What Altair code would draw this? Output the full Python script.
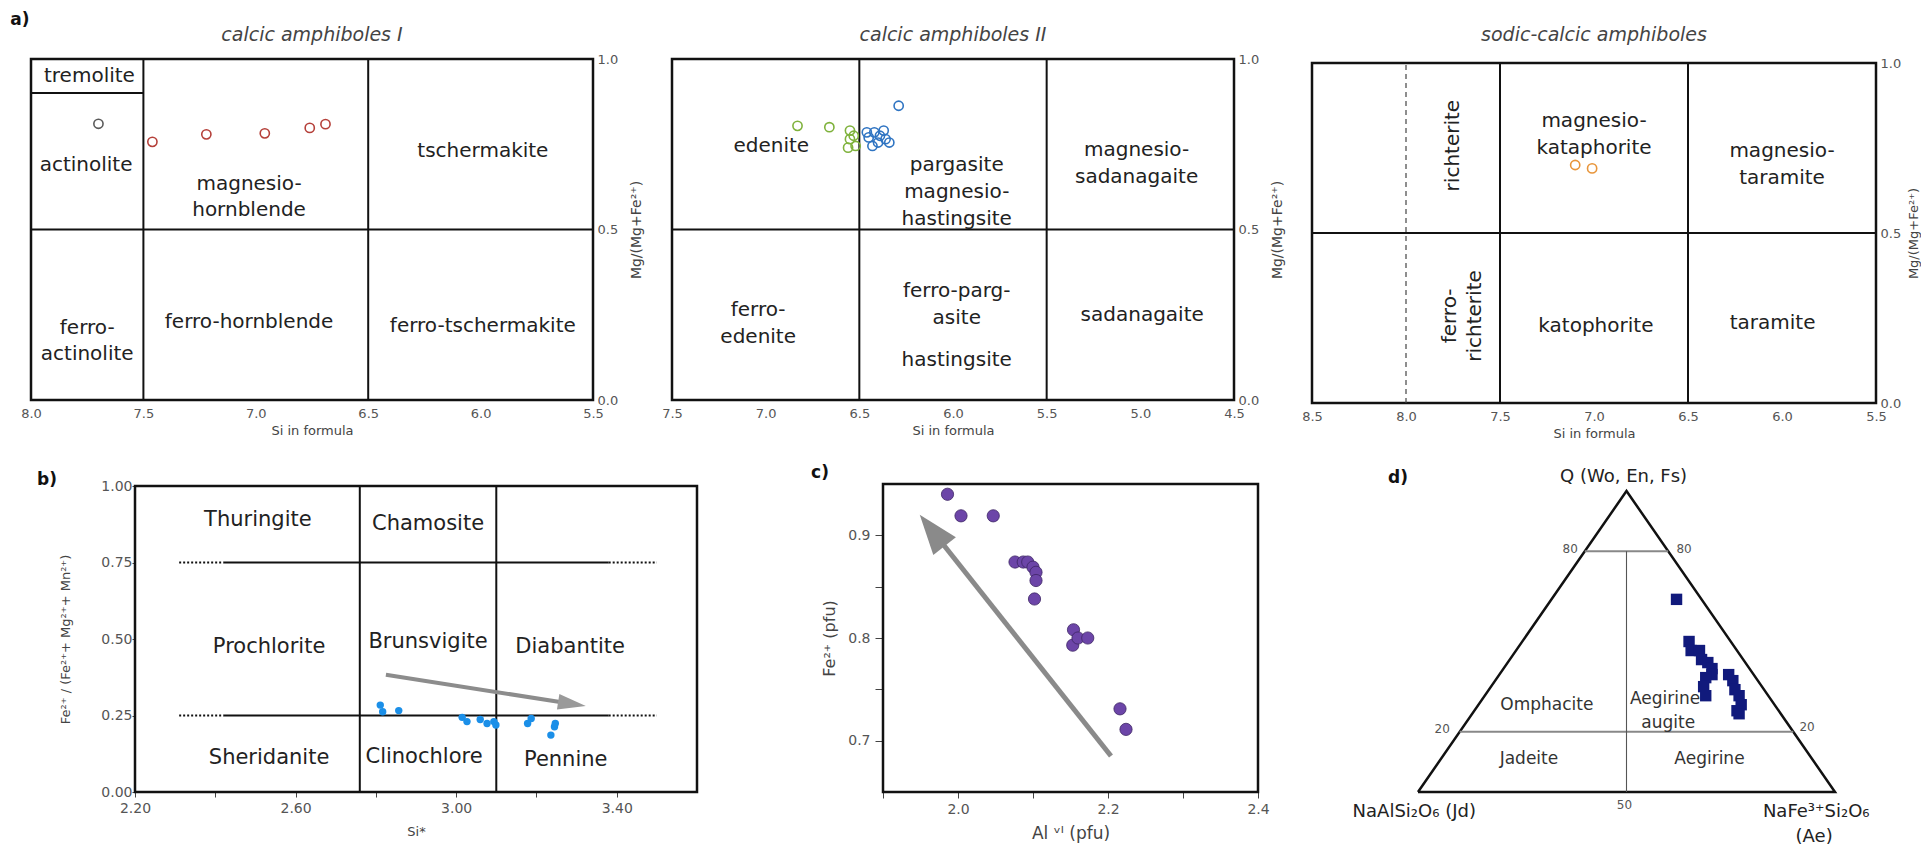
import math
import altair as alt
import pandas as pd

# ---------------- data ----------------
# a) amphiboles: Si in formula vs Mg/(Mg+Fe2+)
a1_grey_si = [7.70]
a1_grey_mg = [0.810]
a1_red_si = [7.46, 7.22, 6.96, 6.76, 6.69]
a1_red_mg = [0.757, 0.779, 0.782, 0.798, 0.809]
a2_green_si = [6.83, 6.66, 6.55, 6.55, 6.56, 6.53, 6.52]
a2_green_mg = [0.804, 0.800, 0.790, 0.765, 0.740, 0.775, 0.745]
a2_blue_si = [6.29, 6.37, 6.42, 6.45, 6.43, 6.36, 6.34, 6.40, 6.46, 6.39]
a2_blue_mg = [0.863, 0.790, 0.785, 0.770, 0.745, 0.765, 0.755, 0.755, 0.785, 0.775]
a3_orange_si = [7.10, 7.01]
a3_orange_mg = [0.700, 0.690]

a1_labels = ["tremolite", "actinolite", "magnesio-\nhornblende", "tschermakite",
             "ferro-\nactinolite", "ferro-hornblende", "ferro-tschermakite"]
a1_lab_x = [7.74, 7.755, 7.03, 5.99, 7.75, 7.03, 5.99]
a1_lab_y = [0.95, 0.69, 0.633, 0.73, 0.21, 0.23, 0.216]
a2_labels = ["edenite", "pargasite\nmagnesio-\nhastingsite", "magnesio-\nsadanagaite",
             "ferro-\nedenite", "ferro-parg-\nasite", "hastingsite", "sadanagaite"]
a2_lab_x = [6.97, 5.98, 5.02, 7.04, 5.98, 5.98, 4.99]
a2_lab_y = [0.745, 0.69, 0.733, 0.265, 0.32, 0.118, 0.25]
a3_labels = ["magnesio-\nkataphorite", "magnesio-\ntaramite", "katophorite", "taramite"]
a3_lab_x = [7.0, 6.0, 6.99, 6.05]
a3_lab_y = [0.83, 0.74, 0.227, 0.236]
a3_rot_labels = ["richterite", "ferro-\nrichterite"]
a3_rot_x = [7.75, 7.765]
a3_rot_y = [0.757, 0.256]

# b) chlorite: Si vs Fe2+/(Fe2+ + Mg2+ + Mn2+)
b_si = [2.811, 2.817, 2.857, 3.015, 3.027, 3.060, 3.077, 3.094, 3.099, 3.178, 3.187, 3.245, 3.247, 3.236]
b_fe = [0.284, 0.262, 0.266, 0.244, 0.230, 0.237, 0.224, 0.230, 0.219, 0.224, 0.240, 0.213, 0.224, 0.186]
b_labels = ["Thuringite", "Chamosite", "Prochlorite", "Brunsvigite", "Diabantite",
            "Sheridanite", "Clinochlore", "Pennine"]
b_lab_x = [2.506, 2.93, 2.534, 2.93, 3.284, 2.534, 2.92, 3.273]
b_lab_y = [0.89, 0.875, 0.475, 0.49, 0.475, 0.11, 0.115, 0.104]
b_arrow_start = (2.825, 0.383)
b_arrow_tip = (3.323, 0.281)

# c) Al VI vs Fe2+ (pfu)
c_al = [1.986, 2.004, 2.047, 2.076, 2.087, 2.093, 2.100, 2.104, 2.104, 2.102,
        2.154, 2.153, 2.160, 2.173, 2.216, 2.224]
c_fe = [0.940, 0.919, 0.919, 0.874, 0.874, 0.874, 0.869, 0.864, 0.856, 0.838,
        0.808, 0.793, 0.800, 0.800, 0.731, 0.711]
c_arrow_start = (2.204, 0.685)
c_arrow_tip = (1.949, 0.920)

# d) pyroxene ternary Q - Jd - Ae (%)
d_q = [64, 50, 47, 47, 44, 43, 41, 39, 38, 35, 32, 39, 37, 34, 32, 29, 27, 26]
d_ae = [30, 40, 42, 44, 46, 48, 50, 51, 50, 51, 53, 55, 57, 59, 61, 63, 63, 64]
d_regions = ["Omphacite", "Aegirine-\naugite", "Jadeite", "Aegirine"]
d_reg_x = [0.309, 0.60, 0.266, 0.699]
d_reg_y = [0.288, 0.31, 0.111, 0.111]

# ---------------- layout ----------------
W, H = 1913, 838
M = 8
FONT = "DejaVu Sans"


def rng(a, b):
    return [a - M, b - M]


P = {
    "a1": dict(xd=[5.5, 8.0], xr=rng(593, 31), yd=[0.0, 1.0], yr=rng(400, 59)),
    "a2": dict(xd=[4.5, 7.5], xr=rng(1234, 672), yd=[0.0, 1.0], yr=rng(400, 59)),
    "a3": dict(xd=[5.5, 8.5], xr=rng(1876, 1312), yd=[0.0, 1.0], yr=rng(403, 63)),
    "b": dict(xd=[2.2, 3.6], xr=rng(135, 697), yd=[0.0, 1.0], yr=rng(792, 486)),
    "c": dict(xd=[1.9, 2.4], xr=rng(883, 1258), yd=[0.65, 0.95], yr=rng(792, 484)),
    "d": dict(xd=[0.0, 1.0], xr=rng(1418, 1835), yd=[0.0, 1.0], yr=rng(792, 491)),
}


def scale(dom, r):
    return alt.Scale(domain=dom, range=r, nice=False, zero=False)


def X(p, f="x", axis=None):
    return alt.X(f"{f}:Q", scale=scale(p["xd"], p["xr"]), axis=axis)


def Y(p, f="y", axis=None):
    return alt.Y(f"{f}:Q", scale=scale(p["yd"], p["yr"]), axis=axis)


def axis(orient, pos_full, values, fmt, title, lsize=12, tsize=12, ticks=0,
         lpad=4, tpad=6, expr=None, tangle=None, tbase=None):
    pos = pos_full - M
    if orient == "bottom":
        off = pos - H
    elif orient == "left":
        off = -pos
    else:
        off = pos - W
    kw = dict(orient=orient, offset=off, values=values, format=fmt, domain=False, grid=False,
              labelFont=FONT, labelFontSize=lsize, labelColor="#555", labelPadding=lpad,
              labelOverlap=False, labelFlush=False, labelBound=False, title=title,
              titleFont=FONT, titleFontSize=tsize, titleFontWeight="normal",
              titleColor="#444", titlePadding=tpad)
    if ticks:
        kw.update(ticks=True, tickSize=ticks, tickColor="#444", tickWidth=1)
    else:
        kw["ticks"] = False
    if expr:
        kw["labelExpr"] = expr
    if tangle is not None:
        kw["titleAngle"] = tangle
    if tbase:
        kw["titleBaseline"] = tbase
    return alt.Axis(**kw)


def frame(p, xaxis=None, yaxis=None, sw=2.5):
    df = pd.DataFrame({"x": [p["xd"][0]], "x2": [p["xd"][1]],
                       "y": [p["yd"][0]], "y2": [p["yd"][1]]})
    return alt.Chart(df).mark_rect(filled=False, stroke="#111", strokeWidth=sw).encode(
        x=X(p, axis=xaxis), x2="x2:Q", y=Y(p, axis=yaxis), y2="y2:Q")


def segs(p, x, x2, y, y2, color="#111", sw=2.0, dash=None):
    df = pd.DataFrame({"x": x, "x2": x2, "y": y, "y2": y2})
    kw = dict(color=color, strokeWidth=sw, strokeCap="butt")
    if dash:
        kw["strokeDash"] = dash
    return alt.Chart(df).mark_rule(**kw).encode(x=X(p), x2="x2:Q", y=Y(p), y2="y2:Q")


def texts(p, labels, xs, ys, size=20, color="#222", angle=None, italic=False, bold=False, lh=None):
    df = pd.DataFrame({"t": labels, "x": xs, "y": ys})
    kw = dict(font=FONT, fontSize=size, color=color, align="center", baseline="middle",
              lineBreak="\n")
    if angle is not None:
        kw["angle"] = angle
    if italic:
        kw["fontStyle"] = "italic"
    if bold:
        kw["fontWeight"] = "bold"
    if lh:
        kw["lineHeight"] = lh
    return alt.Chart(df).mark_text(**kw).encode(x=X(p), y=Y(p), text="t:N")


def open_pts(p, xs, ys, color, size=85, sw=1.6):
    df = pd.DataFrame({"x": xs, "y": ys})
    return alt.Chart(df).mark_point(shape="circle", filled=False, size=size, color=color,
                                    strokeWidth=sw, opacity=1).encode(x=X(p), y=Y(p))


def to_px(p, x, y):
    (x0, x1), (r0, r1) = p["xd"], p["xr"]
    (y0, y1), (s0, s1) = p["yd"], p["yr"]
    return r0 + (x - x0) / (x1 - x0) * (r1 - r0), s0 + (y - y0) / (y1 - y0) * (s1 - s0)


def to_data(p, px, py):
    (x0, x1), (r0, r1) = p["xd"], p["xr"]
    (y0, y1), (s0, s1) = p["yd"], p["yr"]
    return x0 + (px - r0) / (r1 - r0) * (x1 - x0), y0 + (py - s0) / (s1 - s0) * (y1 - y0)


def arrow(p, start, tip, color, sw, L, half, head_color=None):
    sx, sy = to_px(p, *start)
    tx, ty = to_px(p, *tip)
    dx, dy = tx - sx, ty - sy
    n = math.hypot(dx, dy)
    ux, uy = dx / n, dy / n
    end = to_data(p, tx - ux * L * 0.7, ty - uy * L * 0.7)
    shaft = segs(p, [start[0]], [end[0]], [start[1]], [end[1]], color=color, sw=sw)
    ang = math.degrees(math.atan2(dx, -dy)) % 360
    head = alt.Chart(pd.DataFrame({"x": [tip[0]], "y": [tip[1]]})).mark_point(
        shape=f"M0,0L{half},1L-{half},1Z", filled=True, size=4 * L * L,
        color=head_color or color, opacity=1, angle=ang, strokeWidth=0).encode(x=X(p), y=Y(p))
    return [shaft, head]


layers = []

# ---------------- panel a ----------------
a_title_y = 1.07
for key, vals, ttl, tx in [
    ("a1", [5.5, 6.0, 6.5, 7.0, 7.5, 8.0], "calcic amphiboles I", 6.75),
    ("a2", [4.5, 5.0, 5.5, 6.0, 6.5, 7.0, 7.5], "calcic amphiboles II", 6.0),
    ("a3", [5.5, 6.0, 6.5, 7.0, 7.5, 8.0, 8.5], "sodic-calcic amphiboles", 7.0),
]:
    p = P[key]
    bottom_full = p["yr"][0] + M
    right_full = p["xr"][0] + M
    last = key == "a3"
    xa = axis("bottom", bottom_full, vals, ".1f", "Si in formula", lsize=13, tsize=13,
              lpad=7, tpad=4)
    ya = axis("right", right_full, [0.0, 0.5, 1.0], ".1f", "Mg/(Mg+Fe²⁺)", lsize=13,
              tsize=13 if last else 14, lpad=4, tpad=7 if last else 12, tangle=270,
              tbase="top")
    layers.append(frame(p, xaxis=xa, yaxis=ya))
    layers.append(texts(p, [ttl], [tx], [a_title_y + (0.012 if last else 0)],
                        size=19, color="#444", italic=True))

pa1, pa2, pa3 = P["a1"], P["a2"], P["a3"]
layers.append(texts(pa1, ["a)"], [8.049], [1.115], size=17, color="#111", bold=True))
# a1 boundaries
layers.append(segs(pa1, [7.5, 6.5, 8.0, 8.0], [7.5, 6.5, 5.5, 7.5],
                   [0.0, 0.0, 0.5, 0.9], [1.0, 1.0, 0.5, 0.9]))
# a2 boundaries
layers.append(segs(pa2, [6.5, 5.5, 7.5], [6.5, 5.5, 4.5], [0.0, 0.0, 0.5], [1.0, 1.0, 0.5]))
# a3 boundaries
layers.append(segs(pa3, [7.5, 6.5, 8.5], [7.5, 6.5, 5.5], [0.0, 0.0, 0.5], [1.0, 1.0, 0.5]))
layers.append(segs(pa3, [8.0], [8.0], [0.0], [1.0], color="#444", sw=1.2, dash=[5, 4]))

layers.append(texts(pa1, a1_labels, a1_lab_x, a1_lab_y, size=20, lh=26))
layers.append(texts(pa2, a2_labels, a2_lab_x, a2_lab_y, size=20, lh=27))
layers.append(texts(pa3, a3_labels, a3_lab_x, a3_lab_y, size=20, lh=27))
layers.append(texts(pa3, a3_rot_labels, a3_rot_x, a3_rot_y, size=20, angle=270, lh=25))

layers.append(open_pts(pa1, a1_grey_si, a1_grey_mg, "#5a5a5a"))
layers.append(open_pts(pa1, a1_red_si, a1_red_mg, "#b5403a"))
layers.append(open_pts(pa2, a2_green_si, a2_green_mg, "#7fb23c"))
layers.append(open_pts(pa2, a2_blue_si, a2_blue_mg, "#2f74c2"))
layers.append(open_pts(pa3, a3_orange_si, a3_orange_mg, "#e8953a"))

# ---------------- panel b ----------------
pb = P["b"]
bx = axis("bottom", 792, [2.2, 2.4, 2.6, 2.8, 3.0, 3.2, 3.4], ".2f", "Si*", lsize=14,
          tsize=13, ticks=5, lpad=4, tpad=10,
          expr="(round(datum.value*10) - 22) % 4 == 0 ? format(datum.value, '.2f') : ''")
by = axis("left", 135, [0.0, 0.25, 0.5, 0.75, 1.0], ".2f",
          "Fe²⁺ / (Fe²⁺+ Mg²⁺+ Mn²⁺)", lsize=14, tsize=13, ticks=3, lpad=0, tpad=28)
layers.append(frame(pb, xaxis=bx, yaxis=by))
layers.append(segs(pb, [2.76, 3.10], [2.76, 3.10], [0.0, 0.0], [1.0, 1.0]))
layers.append(segs(pb, [2.42, 2.42], [3.38, 3.38], [0.75, 0.25], [0.75, 0.25], sw=2.2))
layers.append(segs(pb, [2.31, 3.38, 2.31, 3.38], [2.42, 3.50, 2.42, 3.50],
                   [0.75, 0.75, 0.25, 0.25], [0.75, 0.75, 0.25, 0.25], sw=2, dash=[2, 2]))
layers.append(texts(pb, b_labels, b_lab_x, b_lab_y, size=21))
layers.append(texts(pb, ["b)"], [1.981], [1.02], size=17, color="#111", bold=True))
layers.append(alt.Chart(pd.DataFrame({"x": b_si, "y": b_fe})).mark_circle(
    size=55, color="#1b8fe8", opacity=1).encode(x=X(pb), y=Y(pb)))
layers += arrow(pb, b_arrow_start, b_arrow_tip, "#8c8c8c", 4, 28, 0.28, head_color="#9a9a9a")

# ---------------- panel c ----------------
pc = P["c"]
cx = axis("bottom", 792, [1.9, 2.0, 2.1, 2.2, 2.3, 2.4], ".1f", "Al ᵛᴵ (pfu)", lsize=14,
          tsize=17, ticks=6, lpad=4, tpad=9,
          expr="round(datum.value*10) % 2 == 0 ? format(datum.value, '.1f') : ''")
cy = axis("left", 883, [0.7, 0.75, 0.8, 0.85, 0.9], ".2f", "Fe²⁺ (pfu)", lsize=14,
          tsize=16, ticks=8, lpad=5, tpad=10,
          expr="round(datum.value*100) % 10 == 0 ? format(datum.value, '.1f') : ''")
layers.append(frame(pc, xaxis=cx, yaxis=cy))
layers += arrow(pc, c_arrow_start, c_arrow_tip, "#8a8a8a", 5, 40, 0.36)
layers.append(alt.Chart(pd.DataFrame({"x": c_al, "y": c_fe})).mark_point(
    shape="circle", filled=True, size=150, fill="#6c45a8", stroke="#3d2664",
    strokeWidth=0.8, opacity=1).encode(x=X(pc), y=Y(pc)))
layers.append(texts(pc, ["c)"], [1.816], [0.961], size=17, color="#111", bold=True))

# ---------------- panel d (ternary) ----------------
pd_ = P["d"]
TERN = dict(px="datum.Ae/100 + datum.Q/200", py="datum.Q/100")
tri = pd.DataFrame({"Q": [0, 0, 100, 0], "Ae": [0, 100, 0, 0], "o": [0, 1, 2, 3]})
layers.append(alt.Chart(tri).transform_calculate(**TERN).mark_line(
    color="#111", strokeWidth=2.5, strokeJoin="miter").encode(
    x=X(pd_, "px"), y=Y(pd_, "py"), order="o:Q"))
inner = pd.DataFrame({"Q": [80, 20], "Ae": [0, 0], "Q2": [80, 20], "Ae2": [20, 80]})
layers.append(alt.Chart(inner).transform_calculate(
    px="datum.Ae/100 + datum.Q/200", py="datum.Q/100",
    px2="datum.Ae2/100 + datum.Q2/200", py2="datum.Q2/100").mark_rule(
    color="#888", strokeWidth=2).encode(x=X(pd_, "px"), x2="px2:Q", y=Y(pd_, "py"), y2="py2:Q"))
mid = pd.DataFrame({"Q": [0], "Ae": [50], "Q2": [80], "Ae2": [10]})
layers.append(alt.Chart(mid).transform_calculate(
    px="datum.Ae/100 + datum.Q/200", py="datum.Q/100",
    px2="datum.Ae2/100 + datum.Q2/200", py2="datum.Q2/100").mark_rule(
    color="#555", strokeWidth=1.1).encode(x=X(pd_, "px"), x2="px2:Q", y=Y(pd_, "py"), y2="py2:Q"))
layers.append(texts(pd_, ["80", "80", "20", "20", "50"],
                    [0.365, 0.638, 0.058, 0.933, 0.495],
                    [0.808, 0.808, 0.21, 0.216, -0.044], size=12, color="#555"))
layers.append(texts(pd_, d_regions, d_reg_x, d_reg_y, size=17, color="#333", lh=24))
layers.append(alt.Chart(pd.DataFrame({"Q": d_q, "Ae": d_ae})).transform_calculate(**TERN)
              .mark_square(size=130, color="#111a7c", opacity=1).encode(
    x=X(pd_, "px"), y=Y(pd_, "py")))
layers.append(texts(pd_, ["Q (Wo, En, Fs)", "NaAlSi₂O₆ (Jd)", "NaFe³⁺Si₂O₆", "(Ae)"],
                    [0.493, -0.009, 0.955, 0.95], [1.047, -0.066, -0.066, -0.148],
                    size=18, color="#222"))
layers.append(texts(pd_, ["d)"], [-0.048], [1.043], size=17, color="#111", bold=True))

chart = alt.layer(*layers).resolve_scale(x="independent", y="independent").properties(
    width=W, height=H, padding=0, autosize=alt.AutoSizeParams(type="none")
).configure_view(strokeWidth=0)

chart.save("out.html", embed_options={"renderer": "svg", "actions": False})
